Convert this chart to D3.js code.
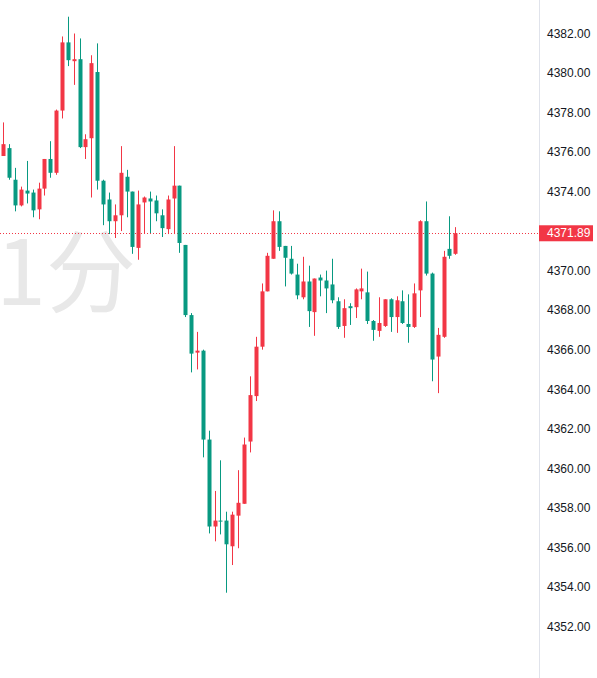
<!DOCTYPE html>
<meta charset="utf-8">
<style>
body { margin: 0; background: #fff; }
.tick text { font: 12px "Liberation Sans", Arial, sans-serif; fill: #131722; }
.watermark { font-family: "Noto Sans CJK SC", sans-serif; font-size: 90px; fill: #e8e8e8; }
</style>
<body>
<svg width="597" height="678"></svg>
<script src="https://d3js.org/d3.v7.min.js"></script>
<script>

// 1 minute candles, oldest first
var opens = [4375.8, 4376.2, 4374.6, 4373.3, 4374.05, 4373.95, 4373.1, 4374.15, 4375.65, 4374.95,
  4378.1, 4381.55, 4380.6, 4380.7, 4376.25, 4376.7, 4380.05, 4374.55, 4373.6, 4372.5,
  4372.8, 4374.75, 4374.0, 4371.15, 4373.45, 4373.65, 4373.55, 4372.8, 4372.1, 4373.65,
  4374.3, 4371.3, 4367.75, 4365.85, 4365.95, 4361.45, 4357.05, 4357.35, 4357.35, 4356.05,
  4357.6, 4358.2, 4361.35, 4363.65, 4366.15, 4368.95, 4370.6, 4372.5, 4371.25, 4370.6,
  4369.8, 4368.65, 4369.45, 4367.9, 4369.65, 4369.5, 4369.3, 4368.45, 4367.2, 4368.2,
  4368.15, 4368.95, 4368.9, 4367.45, 4366.95, 4367.2, 4368.55, 4367.65, 4368.45, 4367.3,
  4367.15, 4369.0, 4372.5, 4369.85, 4365.65, 4366.65, 4371.1, 4370.85];
var highs = [4377.5, 4376.4, 4375.2, 4374.25, 4375.55, 4374.1, 4374.45, 4375.65, 4376.55, 4378.15,
  4381.85, 4382.85, 4382.0, 4381.75, 4376.9, 4380.9, 4381.5, 4374.6, 4373.95, 4373.35,
  4376.3, 4375.1, 4374.0, 4374.05, 4373.75, 4374.0, 4373.8, 4373.1, 4373.8, 4376.3,
  4374.3, 4371.3, 4367.85, 4366.9, 4366.0, 4361.9, 4358.85, 4360.4, 4357.8, 4357.8,
  4359.9, 4361.55, 4364.65, 4366.65, 4369.35, 4370.9, 4373.05, 4373.0, 4371.25, 4371.25,
  4370.35, 4370.7, 4370.25, 4369.6, 4369.8, 4370.0, 4370.6, 4368.65, 4368.55, 4368.35,
  4369.1, 4370.1, 4369.95, 4367.5, 4368.65, 4368.55, 4368.6, 4368.7, 4369.0, 4368.8,
  4369.35, 4372.55, 4373.5, 4369.9, 4367.1, 4371.0, 4372.75, 4372.2];
var lows = [4375.8, 4374.6, 4373.0, 4373.25, 4373.4, 4372.7, 4372.6, 4373.8, 4374.7, 4374.85,
  4377.7, 4380.35, 4379.4, 4376.2, 4375.65, 4373.7, 4374.1, 4372.3, 4371.85, 4371.65,
  4372.0, 4372.7, 4370.85, 4370.55, 4371.9, 4371.9, 4372.5, 4371.7, 4371.85, 4371.85,
  4370.9, 4367.65, 4364.85, 4365.0, 4360.55, 4356.7, 4356.3, 4356.65, 4353.7, 4355.1,
  4355.95, 4358.2, 4360.8, 4363.4, 4366.0, 4368.95, 4370.6, 4371.0, 4369.2, 4369.8,
  4368.55, 4368.55, 4367.15, 4366.7, 4368.7, 4367.85, 4368.35, 4367.05, 4366.6, 4367.25,
  4367.6, 4368.55, 4367.3, 4366.45, 4366.65, 4367.15, 4366.9, 4366.85, 4367.3, 4366.35,
  4367.1, 4367.65, 4369.75, 4364.4, 4363.8, 4366.6, 4370.6, 4370.8];
var closes = [4376.4, 4374.7, 4373.3, 4374.1, 4373.9, 4373.05, 4374.15, 4375.65, 4374.95, 4378.1,
  4381.55, 4380.65, 4380.7, 4376.25, 4376.65, 4380.5, 4374.55, 4373.35, 4372.5, 4372.8,
  4374.95, 4374.0, 4371.2, 4373.35, 4373.7, 4373.5, 4372.9, 4372.15, 4373.6, 4374.3,
  4371.4, 4367.75, 4365.8, 4365.95, 4361.45, 4357.05, 4357.35, 4357.3, 4356.15, 4357.65,
  4358.25, 4361.2, 4363.7, 4366.15, 4368.95, 4370.75, 4372.5, 4371.2, 4370.65, 4369.85,
  4368.75, 4369.45, 4367.95, 4369.6, 4369.5, 4369.1, 4368.5, 4367.15, 4368.1, 4368.1,
  4369.05, 4369.1, 4367.45, 4367.0, 4367.35, 4368.55, 4367.65, 4368.5, 4367.35, 4367.15,
  4368.85, 4372.5, 4369.85, 4365.5, 4366.75, 4370.7, 4370.75, 4371.89];

var priceTicks = [4352, 4354, 4356, 4358, 4360, 4362, 4364, 4366, 4368, 4370, 4372, 4374, 4376, 4378, 4380, 4382];
var lastPrice = 4371.89;
var label = "1分";

var upColor = "#f23645",   // red rises
    downColor = "#089981";
var axisX = 539;

var svg = d3.select("svg");

var x = d3.scaleLinear()
  .domain([0, opens.length - 1])
  .range([3.3, 455.3]);

var y = d3.scaleLinear()
  .domain([4352, 4382])
  .range([626.3, 33.5]);

// big interval watermark behind the candles
svg.append("text")
  .attr("class", "watermark")
  .attr("x", -4)
  .attr("y", 305)
  .text(label);

// last price dotted line
svg.append("line")
  .attr("x1", 0)
  .attr("x2", axisX)
  .attr("y1", Math.round(y(lastPrice)) + 0.5)
  .attr("y2", Math.round(y(lastPrice)) + 0.5)
  .attr("stroke", upColor)
  .attr("stroke-width", 1)
  .attr("stroke-dasharray", "1,2")
  .style("shape-rendering", "crispEdges");

var candles = svg.append("g")
  .selectAll("g")
  .data(d3.range(opens.length))
  .enter().append("g")
    .attr("fill", function(i) { return closes[i] >= opens[i] ? upColor : downColor; })
    .attr("stroke", function(i) { return closes[i] >= opens[i] ? upColor : downColor; });

// wicks
candles.append("line")
  .attr("x1", function(i) { return Math.round(x(i)) + 0.5; })
  .attr("x2", function(i) { return Math.round(x(i)) + 0.5; })
  .attr("y1", function(i) { return y(highs[i]); })
  .attr("y2", function(i) { return y(lows[i]); })
  .attr("stroke-width", 1);

// bodies
candles.append("rect")
  .attr("stroke", "none")
  .attr("x", function(i) { return Math.round(x(i)) - 1.5; })
  .attr("width", 4)
  .attr("y", function(i) { return y(Math.max(opens[i], closes[i])); })
  .attr("height", function(i) { return Math.max(1, Math.abs(y(opens[i]) - y(closes[i]))); });

// price scale
svg.append("line")
  .attr("x1", axisX + 0.5)
  .attr("x2", axisX + 0.5)
  .attr("y1", 0)
  .attr("y2", 678)
  .attr("stroke", "#e0e3eb");

// ticks hidden behind the last price tag are dropped
var shownTicks = priceTicks.filter(function(t) { return Math.abs(y(t) - y(lastPrice)) > 14; });

var axis = svg.append("g")
  .attr("transform", "translate(" + axisX + ",0)")
  .call(d3.axisRight(y).tickValues(shownTicks).tickSize(0).tickPadding(8).tickFormat(d3.format(".2f")));
axis.select(".domain").remove();

// last price tag
var tag = svg.append("g")
  .attr("transform", "translate(" + axisX + "," + y(lastPrice) + ")");
tag.append("rect")
  .attr("x", 0)
  .attr("y", -8)
  .attr("width", 54)
  .attr("height", 16)
  .attr("fill", upColor);
tag.append("text")
  .attr("x", 8)
  .attr("dy", "0.35em")
  .attr("fill", "#fff")
  .style("font", "12px 'Liberation Sans', Arial, sans-serif")
  .text(d3.format(".2f")(lastPrice));

</script>
</body>
